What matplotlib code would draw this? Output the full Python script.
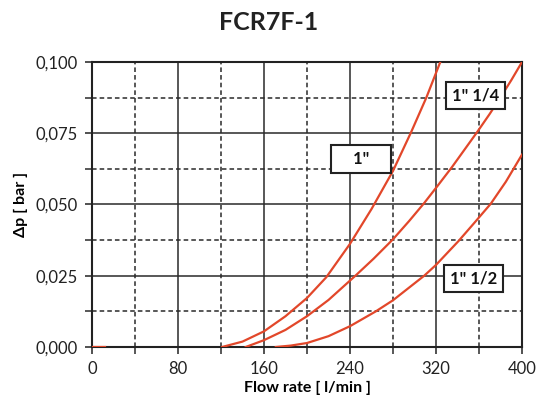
import matplotlib
matplotlib.use("Agg")
import matplotlib.pyplot as plt

plt.rcParams['font.family'] = ['Lato', 'DejaVu Sans']

# flow rate [l/min] and pressure drop [bar]
q_1 = [121, 140, 160, 180, 200, 218, 240, 260, 280, 297, 311, 324]
dp_1 = [0.0, 0.0019, 0.0055, 0.0108, 0.0172, 0.0245, 0.0362, 0.0484, 0.0618, 0.0755, 0.0875, 0.1]

q_114 = [143, 160, 180, 200, 220, 245, 262, 280, 295, 309, 322, 335, 347, 359, 370, 380, 390, 400]
dp_114 = [0.0, 0.0024, 0.006, 0.0108, 0.0165, 0.025, 0.031, 0.0378, 0.0442, 0.0505, 0.0568,
          0.0632, 0.0695, 0.0758, 0.0818, 0.0876, 0.0936, 0.1]

q_112 = [171, 185, 200, 220, 240, 264, 280, 309, 320, 341, 356, 371, 385, 400]
dp_112 = [0.0, 0.0005, 0.0014, 0.0038, 0.0073, 0.0125, 0.0164, 0.025, 0.0288, 0.0372,
          0.0437, 0.0503, 0.058, 0.0675]

start_q = [0, 12]
start_dp = [0.0, 0.0]

x_ticks = [0, 80, 160, 240, 320, 400]
x_minor = [40, 120, 200, 280, 360]
y_ticks = [0.0, 0.025, 0.05, 0.075, 0.1]
y_minor = [0.0125, 0.0375, 0.0625, 0.0875]
y_labels = ["0,000", "0,025", "0,050", "0,075", "0,100"]

labels = ['1"', '1" 1/4', '1" 1/2']
label_pos = [(250, 0.066), (357, 0.0882), (355, 0.024)]

red = '#e2472a'
grid_col = '#2a2a2a'

fig = plt.figure(figsize=(5.38, 4.01), dpi=100)
ax = fig.add_axes([92 / 538, 54 / 401, 430 / 538, 285 / 401])

ax.set_xlim(0, 400)
ax.set_ylim(0, 0.1)

ax.set_xticks(x_ticks)
ax.set_xticks(x_minor, minor=True)
ax.set_yticks(y_ticks)
ax.set_yticks(y_minor, minor=True)
ax.set_yticklabels(y_labels)

ax.grid(which='major', color=grid_col, linewidth=1.1, linestyle='-')
ax.grid(which='minor', color=grid_col, linewidth=1.1, linestyle=(0, (3, 2)))
ax.set_axisbelow(True)

ax.tick_params(which='both', direction='out', length=5, width=1.1, color=grid_col)
ax.tick_params(which='major', labelsize=12, colors='#222222', pad=5)

for s in ax.spines.values():
    s.set_linewidth(1.5)
    s.set_color('#222222')

ax.plot(start_q, start_dp, color=red, linewidth=1.6, zorder=3)
ax.plot(q_1, dp_1, color=red, linewidth=1.6, zorder=3)
ax.plot(q_114, dp_114, color=red, linewidth=1.6, zorder=3)
ax.plot(q_112, dp_112, color=red, linewidth=1.6, zorder=3)

texts = ['    ' + labels[0] + '    ', labels[1], labels[2]]
for t, (lx, ly) in zip(texts, label_pos):
    ax.text(lx, ly, t, ha='center', va='center', fontsize=12, fontweight='bold',
            color='#111111', zorder=5,
            bbox=dict(boxstyle='square,pad=0.35', facecolor='white',
                      edgecolor='#222222', linewidth=1.5))

ax.set_xlabel("Flow rate [ l/min ]", fontsize=11.5, fontweight='bold', labelpad=3)
ax.set_ylabel("Δp [ bar ]", fontsize=11.5, fontweight='bold', labelpad=6)

fig.text(0.5, 0.945, "FCR7F-1", ha='center', va='center', fontsize=18, fontweight='bold',
         color='#222222')

fig.savefig("out.png", dpi=100)
